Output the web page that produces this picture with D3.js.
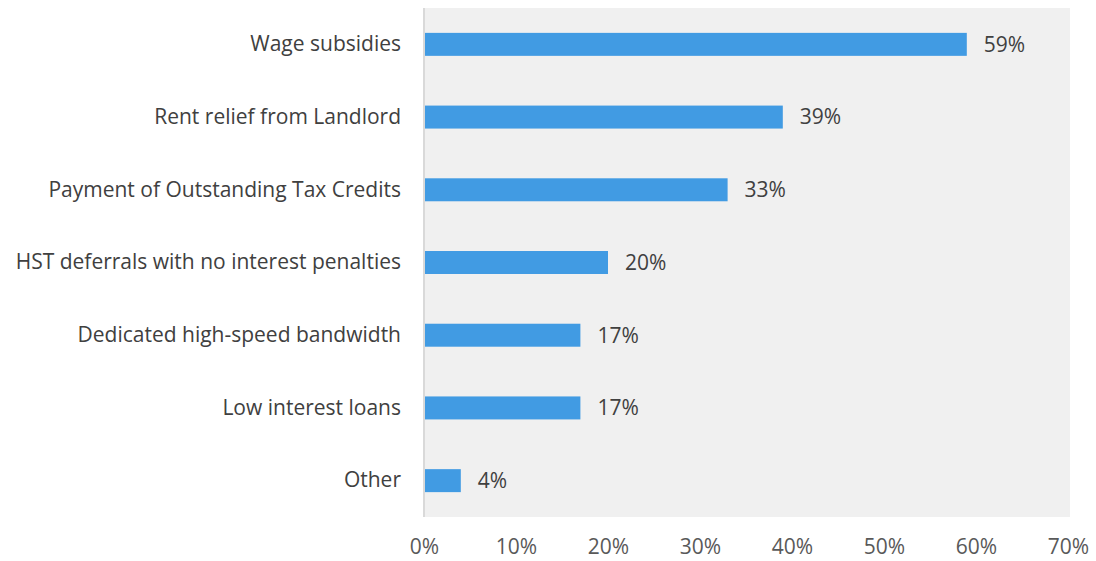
<!DOCTYPE html>
<html>
<head>
<meta charset="utf-8">
<script src="https://cdn.jsdelivr.net/npm/d3@7"></script>
<style>
  html, body { margin: 0; padding: 0; background: #ffffff; }
  svg { display: block; }
  text { font-family: "Open Sans", "Noto Sans", sans-serif; }
</style>
</head>
<body>
<svg id="chart" width="1096" height="561"></svg>
<script>
// Support measures, share of respondents (%)
const categories = [
  "Wage subsidies",
  "Rent relief from Landlord",
  "Payment of Outstanding Tax Credits",
  "HST deferrals with no interest penalties",
  "Dedicated high-speed bandwidth",
  "Low interest loans",
  "Other"
];
const values = [59, 39, 33, 20, 17, 17, 4];
const tickValues = [0, 10, 20, 30, 40, 50, 60, 70];

const svg = d3.select("#chart");
const plot = { left: 424, right: 1068, top: 8, bottom: 517 };
const fontFamily = "\"Open Sans\", \"Noto Sans\", sans-serif";

const x = d3.scaleLinear().domain([0, 70]).range([plot.left, plot.right]);
const y = d3.scaleBand().domain(categories).range([plot.top, plot.bottom])
  .paddingInner(0.684).paddingOuter(0.342);

// plot background
svg.append("rect")
  .attr("x", plot.left).attr("y", plot.top)
  .attr("width", plot.right + 2 - plot.left).attr("height", plot.bottom - plot.top)
  .attr("fill", "#f0f0f0");

// bars
svg.append("g").selectAll("rect")
  .data(values)
  .join("rect")
  .attr("x", x(0))
  .attr("y", (d, i) => y(categories[i]))
  .attr("width", d => x(d) - x(0))
  .attr("height", y.bandwidth())
  .attr("fill", "#419be3");

// value labels
svg.append("g").selectAll("text")
  .data(values)
  .join("text")
  .attr("x", d => x(d) + 17)
  .attr("y", (d, i) => y(categories[i]) + y.bandwidth() / 2)
  .attr("dy", "0.35em")
  .attr("font-size", 21)
  .attr("fill", "#404040")
  .text(d => d + "%");

// category axis
const yAxis = d3.axisLeft(y).tickSize(0).tickPadding(23);
const gy = svg.append("g").attr("transform", `translate(${plot.left},0)`).call(yAxis);
gy.select(".domain").attr("stroke", "#d9d9d9").attr("stroke-width", 2)
  .attr("d", `M0,${plot.top}V${plot.bottom}`);
gy.selectAll("text").attr("font-size", 21).attr("fill", "#404040")
  .attr("font-family", fontFamily);

// value axis
const xAxis = d3.axisBottom(x).tickValues(tickValues).tickFormat(d => d + "%")
  .tickSize(0).tickPadding(22);
const gx = svg.append("g").attr("transform", `translate(0,${plot.bottom})`).call(xAxis);
gx.select(".domain").remove();
gx.selectAll("text").attr("font-size", 21).attr("fill", "#595959")
  .attr("font-family", fontFamily);
</script>
</body>
</html>
